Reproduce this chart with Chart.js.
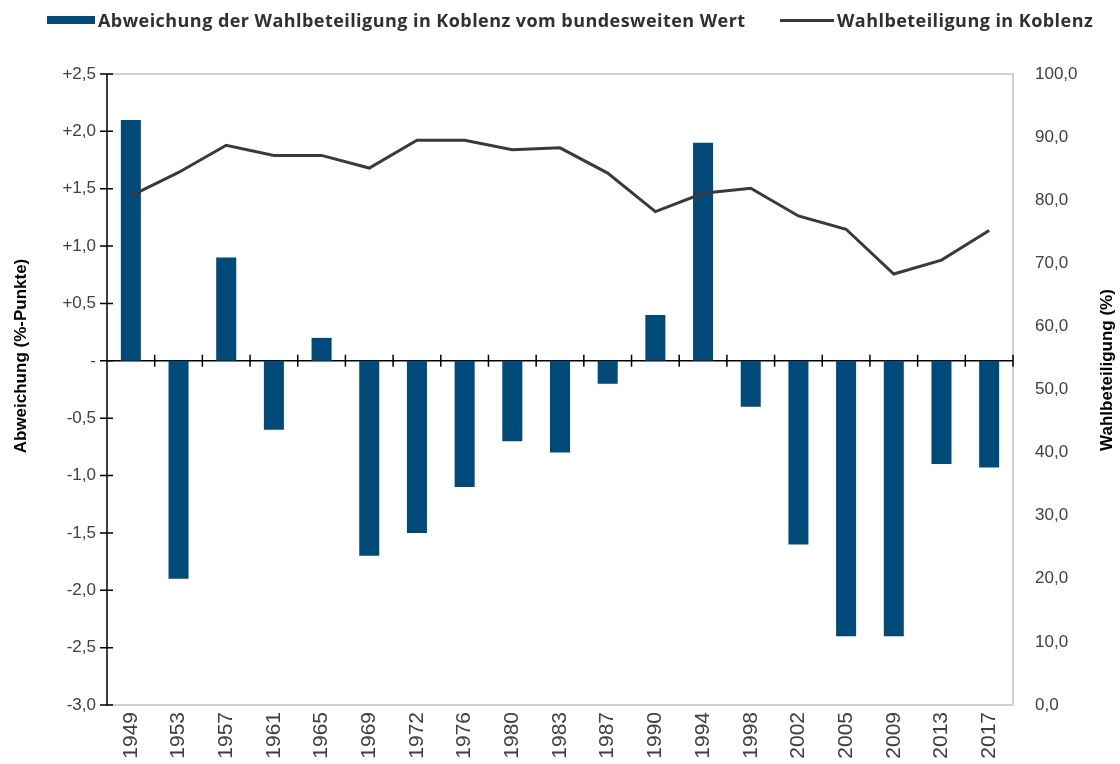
<!DOCTYPE html>
<html lang="de">
<head>
<meta charset="utf-8">
<title>Wahlbeteiligung Koblenz</title>
<script src="https://cdn.jsdelivr.net/npm/chart.js@4.4.1/dist/chart.umd.min.js"></script>
<style>
    html, body { margin: 0; padding: 0; background: #fff; overflow: hidden; }
    #wrap { position: relative; width: 1120px; height: 764px; }
    #chart { position: absolute; left: 0; top: 0; }
    .legend-item { position: absolute; top: 9px; height: 22px; display: flex; align-items: center;
        font-family: "Open Sans", "Noto Sans", sans-serif; font-weight: 700; font-size: 18px; letter-spacing: 0.45px;
        color: #303030; white-space: nowrap; }
    .legend-box { width: 48px; height: 8px; background: #004a7a; margin-right: 3px; }
    .legend-line { width: 54px; height: 3px; background: #3a3a3a; margin-right: 3px; }
</style>
</head>
<body>
<div id="wrap">
    <canvas id="chart" width="1120" height="764"></canvas>
    <div class="legend-item" style="left:47px"><span class="legend-box"></span><span>Abweichung der Wahlbeteiligung in Koblenz vom bundesweiten Wert</span></div>
    <div class="legend-item" style="left:780px"><span class="legend-line"></span><span>Wahlbeteiligung in Koblenz</span></div>
</div>
<script>
// Daten
const jahre = ['1949', '1953', '1957', '1961', '1965', '1969', '1972', '1976', '1980', '1983',
    '1987', '1990', '1994', '1998', '2002', '2005', '2009', '2013', '2017'];
const abweichung = [2.1, -1.9, 0.9, -0.6, 0.2, -1.7, -1.5, -1.1, -0.7, -0.8,
    -0.2, 0.4, 1.9, -0.4, -1.6, -2.4, -2.4, -0.9, -0.93];
const wahlbeteiligung = [80.7, 84.4, 88.7, 87.1, 87.1, 85.1, 89.5, 89.5, 88.0, 88.3,
    84.3, 78.2, 81.1, 81.9, 77.5, 75.4, 68.3, 70.5, 75.2];

const tickFont = { family: '"Liberation Sans", Arial, sans-serif', size: 17 };
const tickColor = '#404040';

function formatAbweichung(v) {
    if (Math.abs(v) < 1e-9) return '-';
    const s = Math.abs(v).toFixed(1).replace('.', ',');
    return (v > 0 ? '+' : '-') + s;
}

function formatProzent(v) {
    return v.toFixed(1).replace('.', ',');
}

// Achsen, Rahmen und Nulllinie mit Strichen
const achsenPlugin = {
    id: 'achsen',
    beforeDatasetsDraw(chart) {
        const ctx = chart.ctx;
        const a = chart.chartArea;
        const yL = chart.scales.yL;
        const x = chart.scales.x;
        ctx.save();

        // grauer Rahmen
        ctx.strokeStyle = '#d0d0d0';
        ctx.lineWidth = 2;
        ctx.beginPath();
        ctx.moveTo(a.left, a.top);
        ctx.lineTo(a.right, a.top);
        ctx.lineTo(a.right, a.bottom);
        ctx.lineTo(a.left, a.bottom);
        ctx.stroke();

        ctx.strokeStyle = '#000';
        ctx.lineWidth = 1.5;
        // linke Achse
        ctx.beginPath();
        ctx.moveTo(a.left, a.top);
        ctx.lineTo(a.left, a.bottom);
        yL.ticks.forEach(function(t) {
            const py = yL.getPixelForValue(t.value);
            ctx.moveTo(a.left - 7, py);
            ctx.lineTo(a.left + 6, py);
        });
        ctx.stroke();

        // Nulllinie
        const y0 = yL.getPixelForValue(0);
        ctx.beginPath();
        ctx.moveTo(a.left, y0);
        ctx.lineTo(a.right, y0);
        for (let i = 1; i <= jahre.length; i++) {
            const px = i < jahre.length
                ? (x.getPixelForValue(i - 1) + x.getPixelForValue(i)) / 2
                : a.right;
            ctx.moveTo(px, y0 - 6);
            ctx.lineTo(px, y0 + 6);
        }
        ctx.stroke();
        ctx.restore();
    },
    afterDraw(chart) {
        const ctx = chart.ctx;
        ctx.save();
        ctx.fillStyle = '#000';
        ctx.font = 'bold 17px "Liberation Sans", Arial, sans-serif';
        ctx.textAlign = 'center';
        ctx.textBaseline = 'middle';

        ctx.translate(21, 356);
        ctx.rotate(-Math.PI / 2);
        ctx.fillText('Abweichung (%-Punkte)', 0, 0);
        ctx.restore();

        ctx.save();
        ctx.fillStyle = '#000';
        ctx.font = 'bold 17px "Liberation Sans", Arial, sans-serif';
        ctx.textAlign = 'center';
        ctx.textBaseline = 'middle';
        ctx.translate(1107, 370);
        ctx.rotate(-Math.PI / 2);
        ctx.fillText('Wahlbeteiligung (%)', 0, 0);
        ctx.restore();
    }
};

new Chart(document.getElementById('chart'), {
    type: 'bar',
    data: {
        labels: jahre,
        datasets: [
            {
                type: 'line',
                label: 'Wahlbeteiligung in Koblenz',
                data: wahlbeteiligung,
                yAxisID: 'yR',
                borderColor: '#3a3a3a',
                borderWidth: 3,
                pointRadius: 0,
                tension: 0,
                order: 0
            },
            {
                label: 'Abweichung der Wahlbeteiligung in Koblenz vom bundesweiten Wert',
                data: abweichung,
                yAxisID: 'yL',
                backgroundColor: '#004a7a',
                barPercentage: 0.42,
                categoryPercentage: 1,
                order: 1
            }
        ]
    },
    options: {
        responsive: false,
        animation: false,
        layout: { padding: { top: 74, left: 0, right: 0, bottom: 0 } },
        plugins: {
            legend: { display: false },
            tooltip: { enabled: false }
        },
        scales: {
            x: {
                offset: true,
                grid: { display: false, drawTicks: false },
                border: { display: false },
                ticks: {
                    font: { family: tickFont.family, size: 21 },
                    color: tickColor,
                    minRotation: 90,
                    maxRotation: 90,
                    autoSkip: false,
                    padding: 7
                },
                afterFit: function(scale) { scale.height = 59; }
            },
            yL: {
                position: 'left',
                min: -3,
                max: 2.5,
                grid: { display: false, drawTicks: false },
                border: { display: false },
                ticks: {
                    stepSize: 0.5,
                    font: tickFont,
                    color: tickColor,
                    padding: 11,
                    callback: function(v) { return formatAbweichung(v); }
                },
                afterFit: function(scale) { scale.width = 107; }
            },
            yR: {
                position: 'right',
                min: 0,
                max: 100,
                grid: { display: false, drawTicks: false },
                border: { display: false },
                ticks: {
                    stepSize: 10,
                    font: tickFont,
                    color: tickColor,
                    padding: 22,
                    callback: function(v) { return formatProzent(v); }
                },
                afterFit: function(scale) { scale.width = 107; }
            }
        }
    },
    plugins: [achsenPlugin]
});
</script>
</body>
</html>
